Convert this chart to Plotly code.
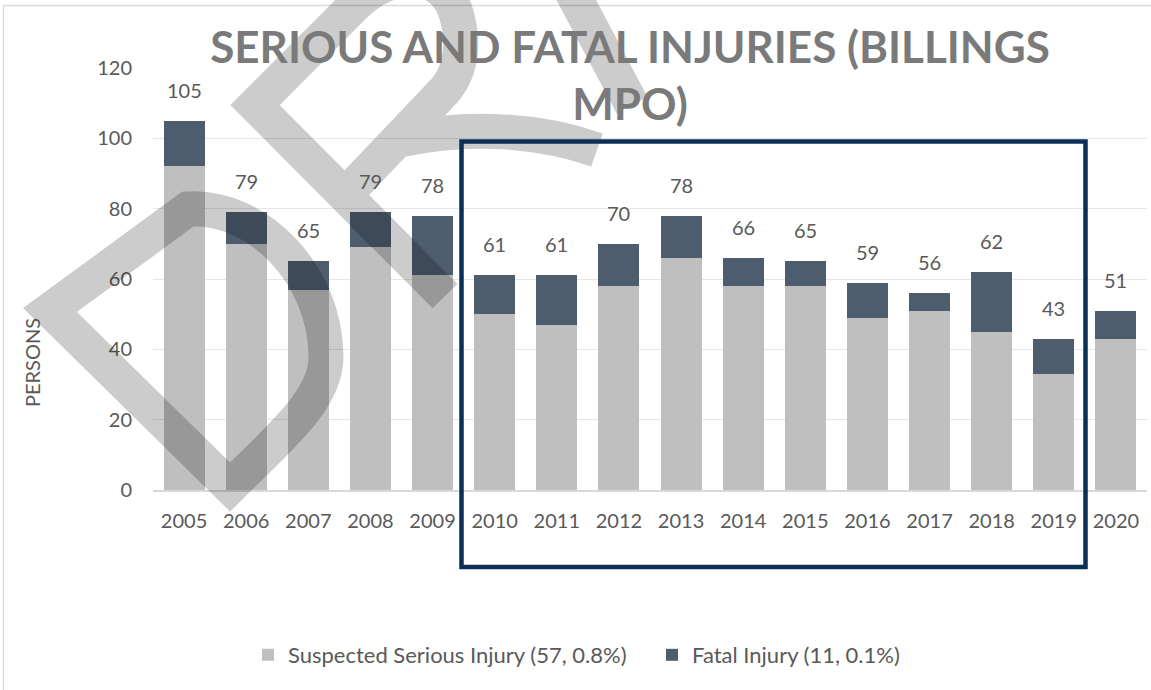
import plotly.graph_objects as go

years = ["2005", "2006", "2007", "2008", "2009", "2010", "2011", "2012",
         "2013", "2014", "2015", "2016", "2017", "2018", "2019", "2020"]
serious = [92, 70, 57, 69, 61, 50, 47, 58, 66, 58, 58, 49, 51, 45, 33, 43]
fatal = [13, 9, 8, 10, 17, 11, 14, 12, 12, 8, 7, 10, 5, 17, 10, 8]
totals = [s + f for s, f in zip(serious, fatal)]
series_names = ["Suspected Serious Injury (57, 0.8%)", "Fatal Injury (11, 0.1%)"]
y_title = "PERSONS"
chart_title = "SERIOUS AND FATAL INJURIES (BILLINGS<br>MPO)"

W, H = 1151, 690
ML, MR, MT, MB = 153, 4, 68, 200
PW, PH = W - ML - MR, H - MT - MB


def px(x):
    return (x - ML) / PW


def py(y):
    return (H - MB - y) / PH


def path(cmds):
    s = []
    for c in cmds:
        if isinstance(c, str):
            s.append(c)
        else:
            s.append(f"{px(c[0]):.5f},{py(c[1]):.5f}")
    return " ".join(s)


FONT = "Lato"
fig = go.Figure()
fig.add_trace(go.Bar(x=years, y=serious, name=series_names[0], legend="legend",
                     marker=dict(color="#bfbfbf", line=dict(width=0))))
fig.add_trace(go.Bar(x=years, y=fatal, name=series_names[1], legend="legend2",
                     marker=dict(color="#4e5d6e", line=dict(width=0))))

for i, t in enumerate(totals):
    fig.add_annotation(x=i, y=t, text=str(t), showarrow=False, yanchor="middle",
                       yshift=31, font=dict(family=FONT, size=20, color="#595959"))

# y axis title (placed as in the reference, below the plot centre)
fig.add_annotation(xref="paper", yref="paper", x=px(32), y=py(363), text=y_title,
                   textangle=-90, showarrow=False, xanchor="center", yanchor="middle",
                   font=dict(family=FONT, size=20, color="#595959"))

# DRAFT watermark (decorative)
wm = path(["M", (50, 310), "L", (230, 487), "C", (280, 437), (326, 400), (326, 357),
           "C", (326, 275), (258, 205), (188, 209), "Z",
           "M", (445, 296), "L", (255, 105), "L", (355, 5), "C", (390, -30), (440, -30), (455, 10),
           "C", (465, 40), (462, 70), (445, 90), "L", (345, 195),
           "M", (400, 140), "C", (470, 125), (540, 130), (597, 150),
           "M", (555, -40), "L", (632, 105)])
fig.add_shape(type="path", path=wm, xref="paper", yref="paper", layer="above",
              line=dict(color="rgba(0,0,0,0.2)", width=35), fillcolor="rgba(0,0,0,0)")

# highlight box
fig.add_shape(type="rect", xref="paper", yref="paper", x0=px(461.5), x1=px(1085.5),
              y0=py(567), y1=py(141.5), line=dict(color="#0b2f57", width=4.5), layer="above")
# chart border
fig.add_shape(type="rect", xref="paper", yref="paper", x0=px(3.5), x1=px(1160),
              y0=py(700), y1=py(5.5), line=dict(color="#d9d9d9", width=1.3), layer="below")

leg_common = dict(orientation="h", yanchor="middle", y=py(655), xanchor="left",
                  font=dict(family=FONT, size=22, color="#595959"), itemwidth=30,
                  bgcolor="rgba(0,0,0,0)")

fig.update_layout(
    width=W, height=H,
    margin=dict(l=ML, r=MR, t=MT, b=MB, pad=0),
    paper_bgcolor="white", plot_bgcolor="white",
    barmode="stack", bargap=0.34,
    font=dict(family=FONT, color="#595959"),
    title=dict(text="<b>" + chart_title + "</b>",
               font=dict(family=FONT, size=44, color="#7a7a7a"),
               x=px(630), xanchor="center", xref="paper",
               y=1 - 63 / H, yanchor="top", yref="container"),
    xaxis=dict(type="category", range=[-0.5, len(years) - 0.5], showgrid=False,
               showline=True, linecolor="#d9d9d9", linewidth=1.5, ticks="",
               tickfont=dict(size=20, color="#595959"), ticklabelstandoff=12),
    yaxis=dict(range=[0, 120], dtick=20, showgrid=True, gridcolor="#e6e6e6", gridwidth=1.3,
               zeroline=False, showline=False, ticks="", tickfont=dict(size=20, color="#595959"),
               ticklabelstandoff=20),
    legend=dict(x=px(248), **leg_common),
    legend2=dict(x=px(652), **leg_common),
    showlegend=True,
)

fig.write_html("out.html", config={"displayModeBar": False},
               post_script="document.body.style.margin='0px';")
